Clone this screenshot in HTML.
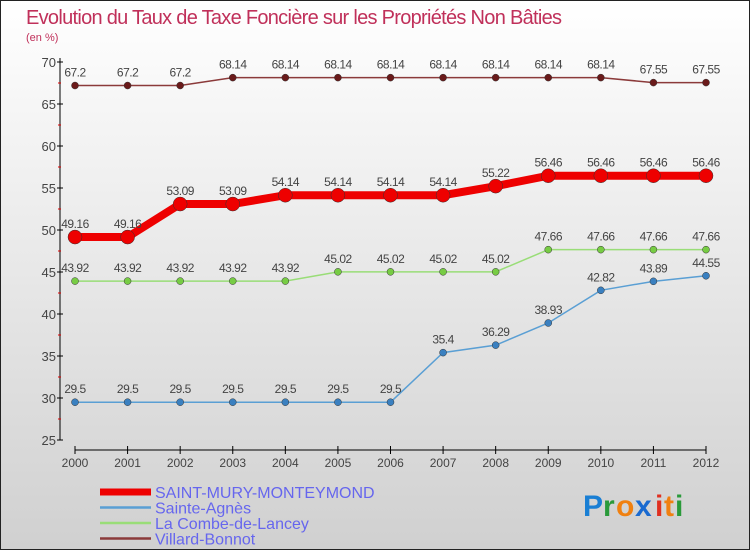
<!DOCTYPE html>
<html><head><meta charset="utf-8"><style>
body{margin:0}
#c{width:750px;height:550px;position:relative;overflow:hidden;font-family:"Liberation Sans",sans-serif}
</style></head><body>
<div id="c">
<svg id="s" width="750" height="550" xmlns="http://www.w3.org/2000/svg">
<defs><linearGradient id="bg" x1="0" y1="0" x2="0" y2="1"><stop offset="0" stop-color="#ffffff"/><stop offset="1" stop-color="#d0d0d0"/></linearGradient></defs>
<rect x="0.5" y="0.5" width="749" height="549" fill="url(#bg)" stroke="#222"/>
<text x="26" y="24" font-size="20" fill="#c0305a" textLength="536">Evolution du Taux de Taxe Foncière sur les Propriétés Non Bâties</text>
<text x="26" y="41" font-size="11" fill="#c0305a">(en %)</text>
<g id="axes"></g><g id="series"></g><g id="legend"></g>
<g font-size="30" font-weight="bold" font-family="Liberation Sans, sans-serif">
<text x="583" y="516" fill="#1a7fd4">P</text><text x="603" y="516" fill="#2a9a3a">r</text><text x="616" y="516" fill="#f08010">o</text><text x="635" y="516" fill="#1a6ad0">x</text><text x="655" y="516" fill="#e03020">i</text><text x="664" y="516" fill="#f08010">t</text><text x="675" y="516" fill="#2a9a3a">i</text>
</g>
</svg></div>
<script>
const years=[2000,2001,2002,2003,2004,2005,2006,2007,2008,2009,2010,2011,2012];
const saintMury=[49.16,49.16,53.09,53.09,54.14,54.14,54.14,54.14,55.22,56.46,56.46,56.46,56.46];
const sainteAgnes=[29.5,29.5,29.5,29.5,29.5,29.5,29.5,35.4,36.29,38.93,42.82,43.89,44.55];
const laCombe=[43.92,43.92,43.92,43.92,43.92,45.02,45.02,45.02,45.02,47.66,47.66,47.66,47.66];
const villard=[67.2,67.2,67.2,68.14,68.14,68.14,68.14,68.14,68.14,68.14,68.14,67.55,67.55];
const yTicks=[25,30,35,40,45,50,55,60,65,70];
const NS="http://www.w3.org/2000/svg";
const X=i=>75+i*(706-75)/12;
const Y=v=>440-(v-25)*(378/45);
function mk(p,t,a){const e=document.createElementNS(NS,t);for(const k in a)e.setAttribute(k,a[k]);p.appendChild(e);return e;}
const ax=document.getElementById('axes');
let l=mk(ax,'line',{x1:60,y1:58,x2:60,y2:440,stroke:'#000'});

l=mk(ax,'line',{x1:75,y1:450,x2:706,y2:450,stroke:'#000'});

yTicks.forEach((v,i)=>{
 mk(ax,'line',{x1:57,y1:Y(v),x2:63,y2:Y(v),stroke:'#000'});
 if(i<yTicks.length-1)mk(ax,'line',{x1:58,y1:Y(v+2.5),x2:61,y2:Y(v+2.5),stroke:'#d00'});
 const t=mk(ax,'text',{x:56,y:Y(v)+5,'font-size':13,fill:'#444','text-anchor':'end'});t.textContent=v;
 
});
years.forEach((y,i)=>{
 mk(ax,'line',{x1:X(i),y1:446,x2:X(i),y2:454,stroke:'#000'});
 const t=mk(ax,'text',{x:X(i),y:467,'font-size':12,fill:'#444','text-anchor':'middle'});t.textContent=y;
 
});
const sers=[
 {n:'SAINT-MURY-MONTEYMOND',d:saintMury,c:'#ee0000',w:8,r:7,dot:'#ee0000',k:'saint-mury'},
 {n:'Sainte-Agnès',d:sainteAgnes,c:'#5a9fd4',w:1.5,r:3.5,dot:'#3a80c0',k:'sainte-agnes'},
 {n:'La Combe-de-Lancey',d:laCombe,c:'#99dd77',w:1.5,r:3.5,dot:'#77cc44',k:'la-combe'},
 {n:'Villard-Bonnot',d:villard,c:'#8b3a3a',w:1.5,r:3.5,dot:'#6a1a1a',k:'villard-bonnot'}];
const sg=document.getElementById('series');
sers.forEach(s=>{
 const g=mk(sg,'g',{});
 const p=mk(g,'polyline',{points:s.d.map((v,i)=>X(i)+','+Y(v)).join(' '),fill:'none',stroke:s.c,'stroke-width':s.w});
 
 s.d.forEach((v,i)=>{
  const c=mk(g,'circle',{cx:X(i),cy:Y(v),r:s.r,fill:s.dot,stroke:'#333','stroke-width':0.5});
  
  const t=mk(g,'text',{x:X(i),y:Y(v)-9,'font-size':12,fill:'#444','text-anchor':'middle','letter-spacing':'-0.5'});t.textContent=v;
  
 });
});
const lg=document.getElementById('legend');
sers.forEach((s,i)=>{
 const y=492+i*15.5;
 const g=mk(lg,'g',{});
 mk(g,'line',{x1:100,y1:y,x2:151,y2:y,stroke:s.c,'stroke-width':i==0?7:2.5});
 const t=mk(g,'text',{x:155,y:y+6,'font-size':16,fill:'#6666ee'});t.textContent=s.n;
});
</script>
</body></html>
